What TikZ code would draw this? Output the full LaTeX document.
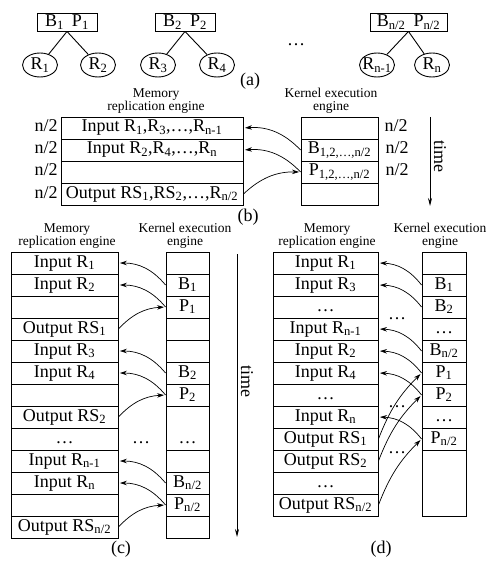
\documentclass[tikz,border=0pt]{standalone}
\usepackage{fontspec}
\setmainfont{Liberation Serif}
\usetikzlibrary{shapes.geometric,arrows.meta}
\newcommand\sbs[1]{\textsubscript{#1}}
\begin{document}
\begin{tikzpicture}[x=1pt,y=-1pt,
  font=\fontsize{18}{20}\selectfont,
  line width=0.9pt,
  topbox/.style={draw, minimum width=60, minimum height=18, inner sep=1},
  leaf/.style={ellipse, draw, minimum width=35, minimum height=24, inner sep=0},
  cell/.style={draw, inner sep=0, minimum height=22, text height=12, text depth=4},
  lbl/.style={inner sep=0, text height=12, text depth=4},
  eng/.style={align=center, inner sep=0, font=\fontsize{13.5}{13}\selectfont},
  arr/.style={-{Stealth[length=7pt,width=4.5pt]}, line width=0.7pt, shorten >=1.5pt},
  tarr/.style={-{Stealth[length=8pt,width=4pt]}, line width=0.8pt}
]
\useasboundingbox (0,0) rectangle (492,561);

% ---------------- (a) ----------------
\node[topbox] (t1) at (67,22) {B\sbs{1}\hspace{8pt}P\sbs{1}};
\node[topbox] (t2) at (185,22) {B\sbs{2}\hspace{8pt}P\sbs{2}};
\node[topbox, minimum width=77] (t3) at (408.5,22) {B\sbs{n/2}\hspace{8pt}P\sbs{n/2}};
\node[leaf] (r1) at (40,65) {R\sbs{1}};
\node[leaf] (r2) at (98,65) {R\sbs{2}};
\node[leaf] (r3) at (158,65) {R\sbs{3}};
\node[leaf] (r4) at (217,65) {R\sbs{4}};
\node[leaf] (rn1) at (377,65) {\makebox[0pt]{R\sbs{n-1}}};
\node[leaf] (rn) at (432,65) {R\sbs{n}};
\draw (t1.south) -- (r1);
\draw (t1.south) -- (r2);
\draw (t2.south) -- (r3);
\draw (t2.south) -- (r4);
\draw (t3.south) -- (rn1);
\draw (t3.south) -- (rn);
\node (adots) at (296,45) {\dots};
\node (capa) at (250,81) {(a)};

% ---------------- (b) ----------------
\node[eng] (bmem) at (156,101) {Memory\\replication engine};
\node[eng] (bker) at (331,101) {Kernel execution\\engine};
\node[cell, minimum width=182] (bm1) at (152,128) {Input R\sbs{1},R\sbs{3},\dots,R\sbs{n-1}};
\node[cell, minimum width=182] (bm2) at (152,150) {Input R\sbs{2},R\sbs{4},\dots,R\sbs{n}};
\node[cell, minimum width=182] (bm3) at (152,172) {};
\node[cell, minimum width=182] (bm4) at (152,194) {Output RS\sbs{1},RS\sbs{2},\dots,R\sbs{n/2}};
\node[cell, minimum width=77] (bk1) at (339.5,128) {};
\node[cell, minimum width=77] (bk2) at (339.5,150) {B\sbs{1,2,\dots,n/2}};
\node[cell, minimum width=77] (bk3) at (339.5,172) {P\sbs{1,2,\dots,n/2}};
\node[cell, minimum width=77] (bk4) at (339.5,194) {};
\node[lbl] (nl1) at (46,128) {n/2};
\node[lbl] (nl2) at (46,150) {n/2};
\node[lbl] (nl3) at (46,172) {n/2};
\node[lbl] (nl4) at (46,194) {n/2};
\node[lbl] (nr1) at (396,128) {n/2};
\node[lbl] (nr2) at (397,150) {n/2};
\node[lbl] (nr3) at (397,172) {n/2};
\draw[arr] (bk2.west) to[bend right=25] (bm1.east);
\draw[arr] (bk3.west) to[bend right=25] (bm2.east);
\draw[arr] (bm4.east) to[bend left=22] (bk3.west);
\coordinate (btop) at (430,117);
\coordinate (bbot) at (430,206);
\draw[tarr] (btop) -- (bbot);
\node[rotate=-90] (btime) at (440,156) {time};
\node (capb) at (248,217) {(b)};

% ---------------- (c) ----------------
\node[eng] (cmem) at (67,236) {Memory\\replication engine};
\node[eng] (cker) at (185,236) {Kernel execution\\engine};
\begin{scope}[every node/.append style={}]
\node[cell, minimum width=107] (cm1) at (64.5,263) {Input R\sbs{1}};
\node[cell, minimum width=107] (cm2) at (64.5,285) {Input R\sbs{2}};
\node[cell, minimum width=107] (cm3) at (64.5,307) {};
\node[cell, minimum width=107] (cm4) at (64.5,329) {Output RS\sbs{1}};
\node[cell, minimum width=107] (cm5) at (64.5,351) {Input R\sbs{3}};
\node[cell, minimum width=107] (cm6) at (64.5,373) {Input R\sbs{4}};
\node[cell, minimum width=107] (cm7) at (64.5,395) {};
\node[cell, minimum width=107] (cm8) at (64.5,417) {Output RS\sbs{2}};
\node[cell, minimum width=107] (cm9) at (64.5,439) {\dots};
\node[cell, minimum width=107] (cm10) at (64.5,461) {Input R\sbs{n-1}};
\node[cell, minimum width=107] (cm11) at (64.5,483) {Input R\sbs{n}};
\node[cell, minimum width=107] (cm12) at (64.5,505) {};
\node[cell, minimum width=107] (cm13) at (64.5,527) {Output RS\sbs{n/2}};
\end{scope}
\node[cell, minimum width=43] (ck1) at (187.5,263) {};
\node[cell, minimum width=43] (ck2) at (187.5,285) {B\sbs{1}};
\node[cell, minimum width=43] (ck3) at (187.5,307) {P\sbs{1}};
\node[cell, minimum width=43] (ck4) at (187.5,329) {};
\node[cell, minimum width=43] (ck5) at (187.5,351) {};
\node[cell, minimum width=43] (ck6) at (187.5,373) {B\sbs{2}};
\node[cell, minimum width=43] (ck7) at (187.5,395) {P\sbs{2}};
\node[draw, inner sep=0, minimum width=43, minimum height=44] (ck89) at (187.5,428) {};
\node[lbl] (ckdots) at (187.5,439) {\dots};
\node[cell, minimum width=43] (ck10) at (187.5,461) {};
\node[cell, minimum width=43] (ck11) at (187.5,483) {B\sbs{n/2}};
\node[cell, minimum width=43] (ck12) at (187.5,505) {P\sbs{n/2}};
\node[cell, minimum width=43] (ck13) at (187.5,527) {};
\node[lbl] (cdots) at (141,439) {\dots};
\draw[arr] (ck2.west) to[bend right=25] (cm1.east);
\draw[arr] (ck3.west) to[bend right=25] (cm2.east);
\draw[arr] (cm4.east) to[bend left=22] (ck3.west);
\draw[arr] (ck6.west) to[bend right=25] (cm5.east);
\draw[arr] (ck7.west) to[bend right=25] (cm6.east);
\draw[arr] (cm8.east) to[bend left=22] (ck7.west);
\draw[arr] (ck11.west) to[bend right=25] (cm10.east);
\draw[arr] (ck12.west) to[bend right=25] (cm11.east);
\draw[arr] (cm13.east) to[bend left=22] (ck12.west);
\node (capc) at (121,549) {(c)};

% time arrow (c)/(d)
\coordinate (ctop) at (237,254);
\coordinate (cbot) at (237,537);
\draw[tarr] (ctop) -- (cbot);
\node[rotate=-90] (ctime) at (247,381) {time};

% ---------------- (d) ----------------
\node[eng] (dmem) at (327,236) {Memory\\replication engine};
\node[eng] (dker) at (440,236) {Kernel execution\\engine};
\node[cell, minimum width=105] (dm1) at (325.5,263) {Input R\sbs{1}};
\node[cell, minimum width=105] (dm2) at (325.5,285) {Input R\sbs{3}};
\node[cell, minimum width=105] (dm3) at (325.5,307) {\dots};
\node[cell, minimum width=105] (dm4) at (325.5,329) {Input R\sbs{n-1}};
\node[cell, minimum width=105] (dm5) at (325.5,351) {Input R\sbs{2}};
\node[cell, minimum width=105] (dm6) at (325.5,373) {Input R\sbs{4}};
\node[cell, minimum width=105] (dm7) at (325.5,395) {\dots};
\node[cell, minimum width=105] (dm8) at (325.5,417) {Input R\sbs{n}};
\node[cell, minimum width=105] (dm9) at (325.5,439) {Output RS\sbs{1}};
\node[cell, minimum width=105] (dm10) at (325.5,461) {Output RS\sbs{2}};
\node[cell, minimum width=105] (dm11) at (325.5,483) {\dots};
\node[cell, minimum width=105] (dm12) at (325.5,505) {Output RS\sbs{n/2}};
\node[cell, minimum width=44] (dk1) at (444,263) {};
\node[cell, minimum width=44] (dk2) at (444,285) {B\sbs{1}};
\node[cell, minimum width=44] (dk3) at (444,307) {B\sbs{2}};
\node[cell, minimum width=44] (dk4) at (444,329) {\dots};
\node[cell, minimum width=44] (dk5) at (444,351) {B\sbs{n/2}};
\node[cell, minimum width=44] (dk6) at (444,373) {P\sbs{1}};
\node[cell, minimum width=44] (dk7) at (444,395) {P\sbs{2}};
\node[cell, minimum width=44] (dk8) at (444,417) {\dots};
\node[cell, minimum width=44] (dk9) at (444,439) {P\sbs{n/2}};
\node[draw, inner sep=0, minimum width=44, minimum height=66] (dk10) at (444,483) {};
\node (ddots1) at (397,319) {\dots};
\node (ddots2) at (397,407) {\dots};
\node (ddots3) at (397,453) {\dots};
\draw[arr] (dk2.west) to[bend right=25] (dm1.east);
\draw[arr] (dk3.west) to[bend right=25] (dm2.east);
\draw[arr] (dk5.west) to[bend right=25] (dm4.east);
\draw[arr] (dk6.west) to[bend right=25] (dm5.east);
\draw[arr] (dk7.west) to[bend right=25] (dm6.east);
\draw[arr] (dk9.west) to[bend right=25] (dm8.east);
\draw[arr] (dm9.east) to[bend left=12] (dk6.west);
\draw[arr] (dm10.east) to[bend left=12] (dk7.west);
\draw[arr] (dm12.east) to[bend left=12] (dk9.west);
\node (capd) at (381,549) {(d)};
\end{tikzpicture}
\end{document}
